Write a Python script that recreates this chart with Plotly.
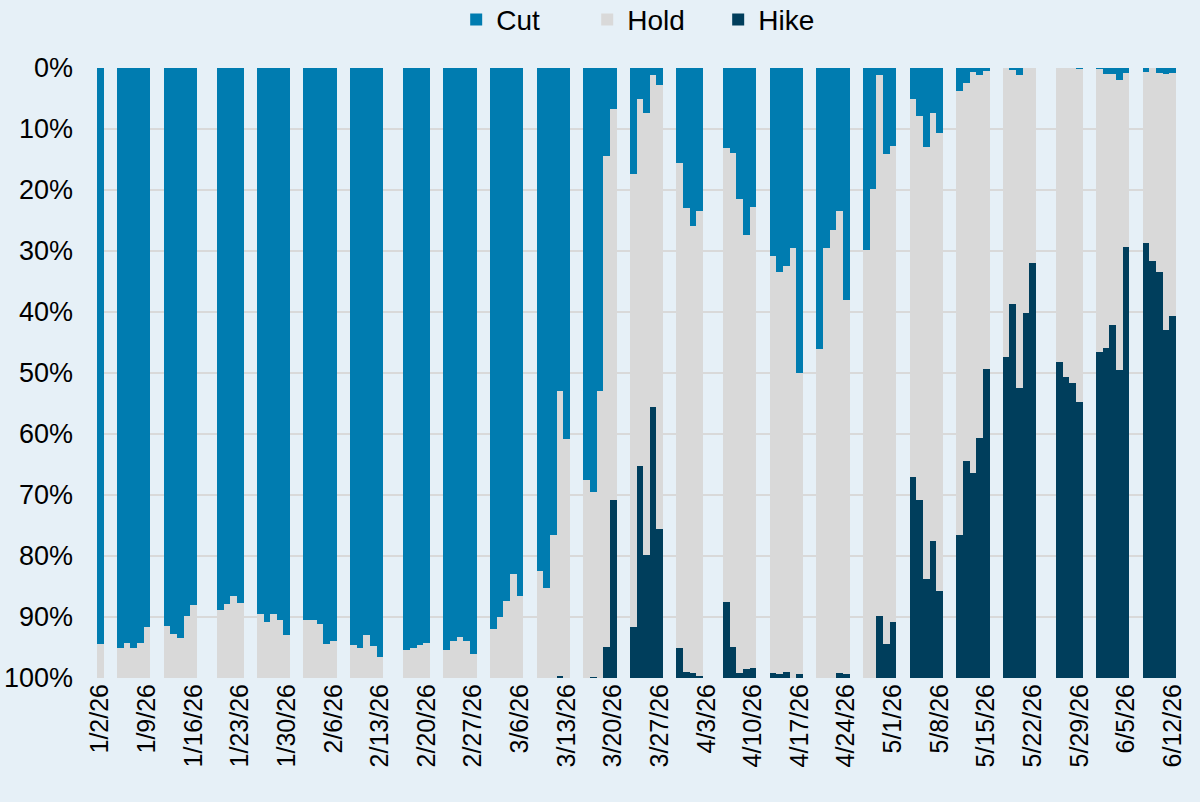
import plotly.graph_objects as go

dates = [
    "2026-01-02", "2026-01-05", "2026-01-06", "2026-01-07", "2026-01-08", "2026-01-09",
    "2026-01-12", "2026-01-13", "2026-01-14", "2026-01-15", "2026-01-16",
    "2026-01-20", "2026-01-21", "2026-01-22", "2026-01-23",
    "2026-01-26", "2026-01-27", "2026-01-28", "2026-01-29", "2026-01-30",
    "2026-02-02", "2026-02-03", "2026-02-04", "2026-02-05", "2026-02-06",
    "2026-02-09", "2026-02-10", "2026-02-11", "2026-02-12", "2026-02-13",
    "2026-02-17", "2026-02-18", "2026-02-19", "2026-02-20",
    "2026-02-23", "2026-02-24", "2026-02-25", "2026-02-26", "2026-02-27",
    "2026-03-02", "2026-03-03", "2026-03-04", "2026-03-05", "2026-03-06",
    "2026-03-09", "2026-03-10", "2026-03-11", "2026-03-12", "2026-03-13",
    "2026-03-16", "2026-03-17", "2026-03-18", "2026-03-19", "2026-03-20",
    "2026-03-23", "2026-03-24", "2026-03-25", "2026-03-26", "2026-03-27",
    "2026-03-30", "2026-03-31", "2026-04-01", "2026-04-02",
    "2026-04-06", "2026-04-07", "2026-04-08", "2026-04-09", "2026-04-10",
    "2026-04-13", "2026-04-14", "2026-04-15", "2026-04-16", "2026-04-17",
    "2026-04-20", "2026-04-21", "2026-04-22", "2026-04-23", "2026-04-24",
    "2026-04-27", "2026-04-28", "2026-04-29", "2026-04-30", "2026-05-01",
    "2026-05-04", "2026-05-05", "2026-05-06", "2026-05-07", "2026-05-08",
    "2026-05-11", "2026-05-12", "2026-05-13", "2026-05-14", "2026-05-15",
    "2026-05-18", "2026-05-19", "2026-05-20", "2026-05-21", "2026-05-22",
    "2026-05-26", "2026-05-27", "2026-05-28", "2026-05-29",
    "2026-06-01", "2026-06-02", "2026-06-03", "2026-06-04", "2026-06-05",
    "2026-06-08", "2026-06-09", "2026-06-10", "2026-06-11", "2026-06-12",
]

cut = [
    94.4, 95.1, 94.3, 95.0, 94.3, 91.7,
    91.5, 92.8, 93.4, 89.8, 88.0,
    88.9, 87.9, 86.6, 87.7,
    89.5, 90.9, 89.5, 90.5, 93.0,
    90.5, 90.5, 91.2, 94.5, 94.0,
    94.6, 95.1, 93.0, 94.8, 96.5,
    95.4, 95.0, 94.6, 94.3,
    95.4, 94.0, 93.3, 94.0, 96.0,
    91.9, 90.0, 87.3, 83.0, 86.5,
    82.4, 85.2, 76.5, 52.9, 60.9,
    67.6, 69.5, 52.9, 14.4, 6.7,
    17.3, 5.0, 7.3, 1.2, 2.8,
    15.5, 22.9, 25.9, 23.5,
    13.1, 14.0, 21.5, 27.3, 22.8,
    30.9, 33.5, 32.4, 29.5, 50.0,
    46.1, 29.5, 26.5, 23.4, 38.0,
    29.8, 19.9, 1.2, 14.1, 12.8,
    5.0, 7.9, 13.0, 7.3, 10.6,
    3.7, 2.4, 0.6, 1.2, 0.5,
    0.0, 0.3, 1.2, 0.0, 0.0,
    0.0, 0.0, 0.0, 0.1,
    0.1, 1.0, 1.0, 2.0, 0.9,
    0.7, 0.0, 0.9, 1.0, 0.9,
]

hike = [
    0, 0, 0, 0, 0, 0,
    0, 0, 0, 0, 0,
    0, 0, 0, 0,
    0, 0, 0, 0, 0,
    0, 0, 0, 0, 0,
    0, 0, 0, 0, 0,
    0, 0, 0, 0,
    0, 0, 0, 0, 0,
    0, 0, 0, 0, 0,
    0, 0, 0, 0.2, 0,
    0, 0.1, 0, 5.1, 29.2,
    8.4, 34.7, 20.2, 44.5, 24.5,
    5.0, 1.0, 0.8, 0.3,
    12.4, 5.1, 0.8, 1.5, 1.6,
    0.8, 0.7, 1.0, 0.0, 0.6,
    0.0, 0.0, 0.0, 0.8, 0.6,
    0.0, 0.0, 10.2, 5.5, 9.2,
    32.9, 29.2, 16.3, 22.4, 14.2,
    23.4, 35.6, 33.6, 39.3, 50.7,
    52.6, 61.3, 47.6, 59.8, 68.0,
    51.8, 49.3, 48.4, 45.2,
    53.5, 54.1, 57.9, 50.5, 70.7,
    71.3, 68.3, 66.6, 57.1, 59.4,
]

hold = [round(100 - c - h, 2) for c, h in zip(cut, hike)]

tick_dates = [
    "2026-01-02", "2026-01-09", "2026-01-16", "2026-01-23", "2026-01-30",
    "2026-02-06", "2026-02-13", "2026-02-20", "2026-02-27",
    "2026-03-06", "2026-03-13", "2026-03-20", "2026-03-27",
    "2026-04-03", "2026-04-10", "2026-04-17", "2026-04-24",
    "2026-05-01", "2026-05-08", "2026-05-15", "2026-05-22", "2026-05-29",
    "2026-06-05", "2026-06-12",
]
tick_labels = [
    "1/2/26", "1/9/26", "1/16/26", "1/23/26", "1/30/26",
    "2/6/26", "2/13/26", "2/20/26", "2/27/26",
    "3/6/26", "3/13/26", "3/20/26", "3/27/26",
    "4/3/26", "4/10/26", "4/17/26", "4/24/26",
    "5/1/26", "5/8/26", "5/15/26", "5/22/26", "5/29/26",
    "6/5/26", "6/12/26",
]

y_ticks = [0, 10, 20, 30, 40, 50, 60, 70, 80, 90, 100]

DAY_MS = 86400000
FONT = "Liberation Sans"
BG = "#E6F0F7"

fig = go.Figure()
for name, vals, color in [("Cut", cut, "#007CB0"), ("Hold", hold, "#D9D9D9"), ("Hike", hike, "#003E5C")]:
    fig.add_trace(go.Bar(
        x=dates, y=vals, name=name, width=DAY_MS,
        marker=dict(color=color, line=dict(width=0)),
    ))

fig.update_layout(
    width=1200, height=802,
    barmode="stack", bargap=0,
    paper_bgcolor=BG, plot_bgcolor=BG,
    margin=dict(l=97, r=24, t=68, b=124, autoexpand=False),
    font=dict(family=FONT, size=26, color="#000000"),
    legend=dict(
        orientation="h", x=0.515, xanchor="center", y=1.079, yanchor="middle",
        font=dict(family=FONT, size=28, color="#000000"),
        bgcolor="rgba(0,0,0,0)", entrywidth=86, itemwidth=30,
        traceorder="normal",
    ),
    xaxis=dict(
        type="date", automargin=False,
        range=["2026-01-01 12:00", "2026-06-12 12:00"],
        tickmode="array", tickvals=tick_dates, ticktext=tick_labels,
        tickangle=-90, showgrid=False, zeroline=False, showline=False,
        ticks="", tickfont=dict(family=FONT, size=25),
    ),
    yaxis=dict(
        range=[100, 0], tickmode="array", tickvals=y_ticks, automargin=False,
        ticktext=[f"{v}%" for v in y_ticks],
        showgrid=True, gridcolor="#D9D9D9", gridwidth=1.5,
        zeroline=False, showline=False, ticks="",
        tickfont=dict(family=FONT, size=27),
        ticklabelstandoff=23,
    ),
)

fig.write_html("out.html")
